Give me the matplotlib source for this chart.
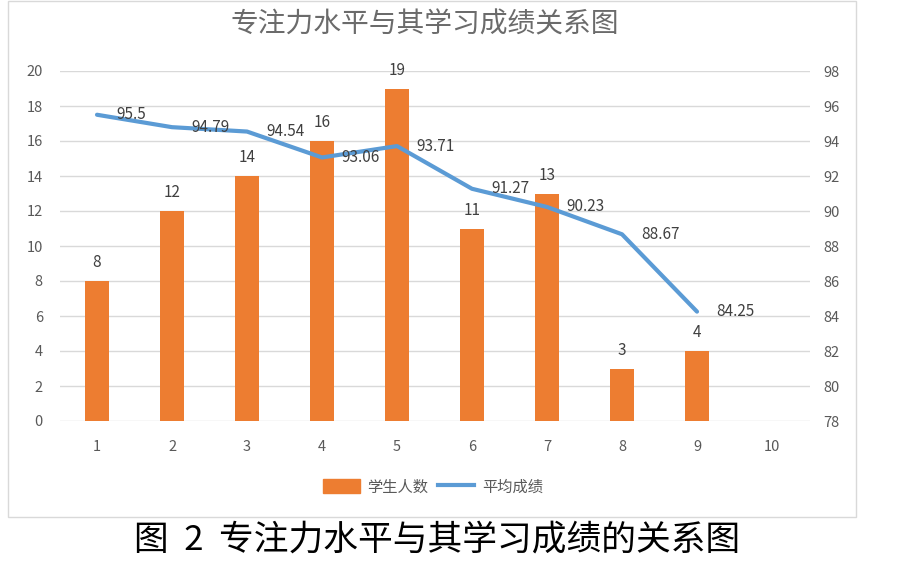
import matplotlib.pyplot as plt
from matplotlib.patches import Rectangle
from matplotlib.lines import Line2D
from matplotlib.patches import Patch
import numpy as np

plt.rcParams['font.family'] = ['Noto Sans CJK SC', 'DejaVu Sans']

levels = [1, 2, 3, 4, 5, 6, 7, 8, 9]
students = [8, 12, 14, 16, 19, 11, 13, 3, 4]
avg_score = [95.5, 94.79, 94.54, 93.06, 93.71, 91.27, 90.23, 88.67, 84.25]
x_ticks = [1, 2, 3, 4, 5, 6, 7, 8, 9, 10]

bar_color = '#ED7D31'
line_color = '#5B9BD5'
txt_gray = '#595959'

fig = plt.figure(figsize=(8.98, 5.68), dpi=100)
fig.patch.set_facecolor('white')

# chart frame
fig.add_artist(Rectangle((8 / 898, 1 - 517 / 568), 848 / 898, 517 / 568 - 0.002,
                         transform=fig.transFigure, fill=False,
                         edgecolor='#D9D9D9', lw=1.0))

ax = fig.add_axes([59.5 / 898, 1 - 421 / 568, 750 / 898, 350 / 568])
ax2 = ax.twinx()

bars = ax.bar(levels, students, width=0.32, color=bar_color, zorder=2)
ax.set_ylim(0, 20)
ax.set_yticks(np.arange(0, 21, 2))
ax.set_xlim(0.5, 10.5)
ax.set_xticks(x_ticks)
ax.grid(axis='y', color='#D9D9D9', lw=1.0, zorder=0)
ax.set_axisbelow(True)
for s in ax.spines.values():
    s.set_visible(False)
for s in ax2.spines.values():
    s.set_visible(False)
ax.tick_params(length=0, labelcolor=txt_gray, labelsize=10.5)
ax.tick_params(axis='x', pad=14)
ax.tick_params(axis='y', pad=12)

for xi, v in zip(levels, students):
    ax.annotate(str(v), (xi, v), xytext=(0, 7), textcoords='offset points',
                ha='center', va='bottom', fontsize=11, color='#404040')

ax2.plot(levels, avg_score, color=line_color, lw=3, zorder=3,
         solid_capstyle='round', solid_joinstyle='round')
ax2.set_ylim(78, 98)
ax2.set_yticks(np.arange(78, 99, 2))
ax2.tick_params(length=0, labelcolor=txt_gray, labelsize=10.5, pad=10)

for xi, v in zip(levels, avg_score):
    ax2.annotate(f'{v:g}', (xi, v), xytext=(14, 0), textcoords='offset points',
                 ha='left', va='center', fontsize=11, color='#404040')

fig.text(425 / 898, 1 - 24 / 568, '专注力水平与其学习成绩关系图', ha='center', va='center',
         fontsize=20, color='#6b6b6b', fontweight='light')

handles = [Patch(color=bar_color), Line2D([0], [0], color=line_color, lw=3)]
fig.legend(handles, ['学生人数', '平均成绩'], loc='center', ncol=2,
           bbox_to_anchor=(433 / 898, 1 - 487 / 568), frameon=False,
           fontsize=11, labelcolor=txt_gray, handlelength=2.4,
           handleheight=1.0, columnspacing=0.6, handletextpad=0.5)

fig.text(437 / 898, 1 - 540 / 568, '图  2  专注力水平与其学习成绩的关系图', ha='center',
         va='center', fontsize=25, color='black', fontweight='light')

fig.savefig('out.png', dpi=100)
